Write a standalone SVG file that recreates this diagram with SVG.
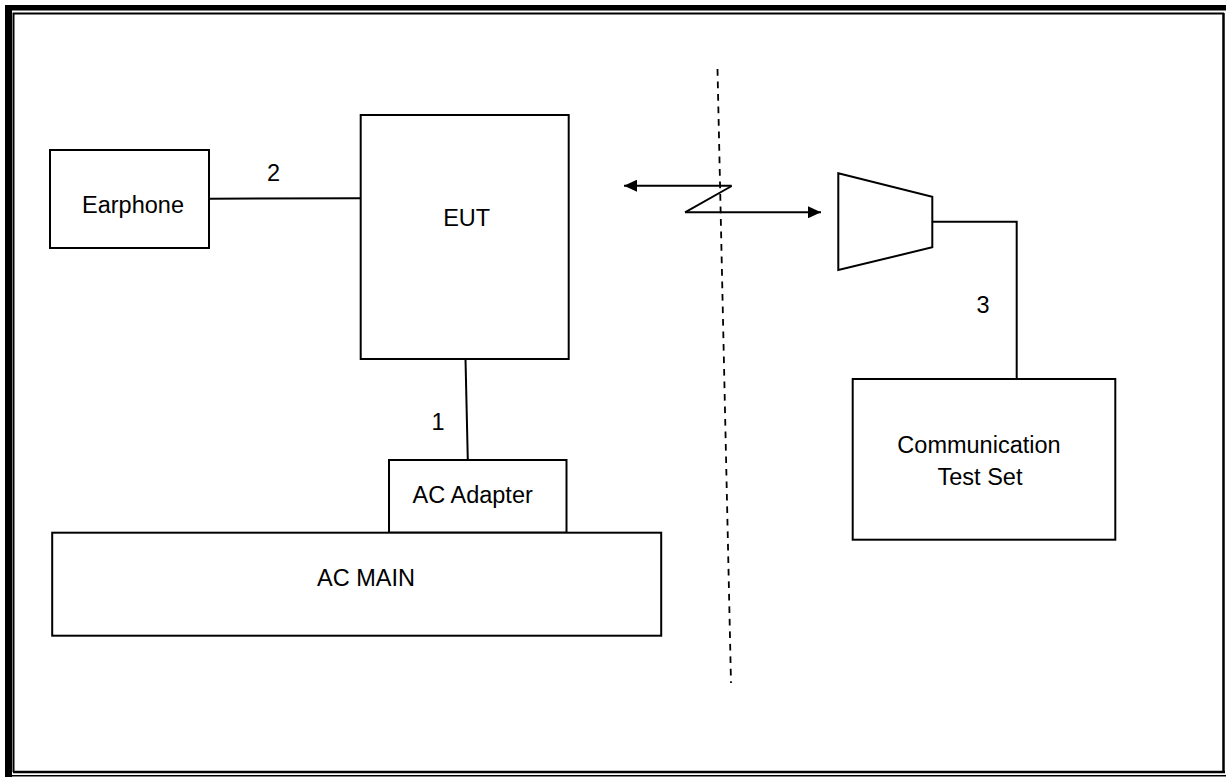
<svg xmlns="http://www.w3.org/2000/svg" width="1226" height="777" viewBox="0 0 1226 777">
<style>
.box{fill:#fff;stroke:#000;stroke-width:2}
.ln{fill:none;stroke:#000;stroke-width:2}
.t{font-family:"Liberation Sans",Arial,sans-serif;font-size:23.5px;fill:#000;text-anchor:middle}
</style>
<defs>
<marker id="ah" markerUnits="userSpaceOnUse" markerWidth="14" markerHeight="12" refX="13" refY="6" orient="auto">
<path d="M0,0 L13,6 L0,12 Z" fill="#000"/>
</marker>
</defs>
<rect width="1226" height="777" fill="#fff"/>
<g id="frame">
<rect x="5" y="5" width="1221" height="5.5" fill="#000"/>
<rect x="5" y="5" width="7" height="772" fill="#000"/>
<path d="M13.5,772 V13.5 H1224" fill="none" stroke="#000" stroke-width="2"/>
<path d="M1223.5,13 V773" fill="none" stroke="#000" stroke-width="2.5"/>
<path d="M13,772 H1225" fill="none" stroke="#000" stroke-width="2.5"/>
<path d="M10,775.8 H1226" fill="none" stroke="#000" stroke-width="1.5"/>
</g>
<g id="connectors">
<line class="ln" x1="209" y1="198.7" x2="360" y2="198.3"/>
<line class="ln" x1="465.5" y1="359" x2="467.8" y2="460"/>
<polyline class="ln" points="932.3,221.7 1016.7,221.7 1016.7,379"/>
<line x1="717.5" y1="69" x2="731" y2="683" stroke="#000" stroke-width="1.8" stroke-dasharray="6.7,5.8"/>
<line class="ln" x1="731.7" y1="185.7" x2="624" y2="185.7" marker-end="url(#ah)"/>
<line class="ln" x1="731.7" y1="186" x2="685" y2="212.3"/>
<line class="ln" x1="685" y1="212.3" x2="821" y2="212.3" marker-end="url(#ah)"/>
<text class="t" x="273.6" y="181">2</text>
<text class="t" x="438" y="430">1</text>
<text class="t" x="983" y="312.7">3</text>
</g>
<g id="earphone">
<rect class="box" x="50" y="150" width="159" height="98"/>
<text class="t" x="133" y="213">Earphone</text>
</g>
<g id="eut">
<rect class="box" x="360.7" y="115" width="208" height="244"/>
<text class="t" x="466.7" y="226">EUT</text>
</g>
<g id="ac-adapter">
<rect class="box" x="389" y="460" width="177.5" height="72.7"/>
<text class="t" x="472.7" y="503">AC Adapter</text>
</g>
<g id="ac-main">
<rect class="box" x="52.2" y="532.7" width="609" height="103"/>
<text class="t" x="366" y="586">AC MAIN</text>
</g>
<g id="antenna">
<polygon class="box" points="838.3,173.3 932.3,196.7 932.3,247.3 838.3,270"/>
</g>
<g id="test-set">
<rect class="box" x="852.7" y="379" width="262.6" height="160.7"/>
<text class="t" x="979" y="453">Communication</text>
<text class="t" x="980" y="485">Test Set</text>
</g>
</svg>
